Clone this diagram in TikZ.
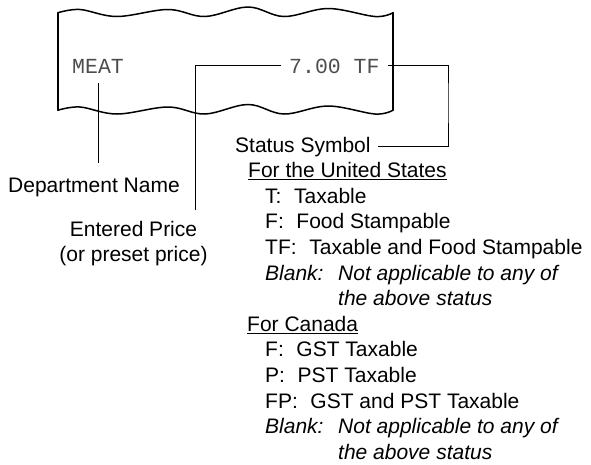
\documentclass[tikz,border=0pt]{standalone}
\usepackage{fontspec}
\setmainfont{Liberation Sans}
\newfontfamily\ticketfont{Liberation Mono}
\usepackage{tikz}
\usepackage{xcolor}
\definecolor{ink}{HTML}{000000}
\definecolor{printed}{HTML}{4D4D4D}
\tikzset{
    paper/.style={
        line width=1.5pt,
        line cap=round,
        line join=round,
        color=ink
    },
    leader/.style={
        line width=0.9pt,
        color=ink
    },
    tickettext/.style={
        font=\ticketfont\fontsize{21.5}{25}\selectfont,
        text=printed,
        inner sep=0pt,
        anchor=base west
    },
    notetext/.style={
        font=\fontsize{21}{25}\selectfont,
        text=ink,
        inner sep=0pt,
        anchor=base west
    },
    blanktext/.style={
        notetext,
        font=\fontsize{21}{25}\selectfont\itshape
    }
}

\begin{document}
\begin{tikzpicture}[x=1pt,y=-1pt]

    \useasboundingbox (0,0) rectangle (591,464);

    % Bords ondulés du ticket
    \foreach \dy in {0,97.5} {
        \draw[paper,shift={(0,\dy)}]
            plot[smooth,tension=0.6] coordinates {
                (58,12.7) (80,9.5) (117,16.5) (168,9.5) (205,16.5)
                (248,7) (284,16.5) (328,8.5) (375,16.5) (393,12.7)};
    }

    % Bords verticaux
    \draw[paper]
        (58,12.7) -- (58,110.2);
    \draw[paper]
        (393,12.7) -- (393,110.2);

    % Ligne imprimée
    \node[tickettext] (meat)
        at (72,73) {MEAT};
    \node[tickettext] (price)
        at (289,73) {7.00 TF};

    % Légendes à gauche
    \node[notetext] (deptname)
        at (8,192) {Department Name};
    \node[
        notetext,
        anchor=base
    ] (entered)
        at (133.5,236) {Entered Price};
    \node[
        notetext,
        anchor=base
    ] (preset)
        at (133.5,261.5) {(or preset price)};

    % Symbole d'état
    \node[notetext] (status)
        at (235,152) {Status Symbol};

    % Etats-Unis
    \node[notetext] (ushead)
        at (248,177.6) {\underline{For the United States}};
    \node[notetext] (ust)
        at (265,203.2) {T:\hspace{0.6em}Taxable};
    \node[notetext] (usf)
        at (265,228.8) {F:\hspace{0.6em}Food Stampable};
    \node[notetext] (ustf)
        at (265,254.4) {TF:\hspace{0.6em}Taxable and Food Stampable};
    \node[blanktext] (usblank)
        at (265,280) {Blank:};
    \node[blanktext] (usnotea)
        at (338,280) {Not applicable to any of};
    \node[blanktext] (usnoteb)
        at (338,305.6) {the above status};

    % Canada
    \node[notetext] (cahead)
        at (247,331.2) {\underline{For Canada}};
    \node[notetext] (caf)
        at (265,356.8) {F:\hspace{0.6em}GST Taxable};
    \node[notetext] (cap)
        at (265,382.4) {P:\hspace{0.6em}PST Taxable};
    \node[notetext] (cafp)
        at (265,408) {FP:\hspace{0.6em}GST and PST Taxable};
    \node[blanktext] (cablank)
        at (265,433.6) {Blank:};
    \node[blanktext] (canotea)
        at (338,433.6) {Not applicable to any of};
    \node[blanktext] (canoteb)
        at (338,459.2) {the above status};

    % Renvois
    \draw[leader,shorten <=10pt,shorten >=14pt]
        (meat.south) -- (meat.south |- deptname.north);

    \draw[leader,shorten <=8pt,shorten >=11pt]
        (price.west) -| ([xshift=-2pt]entered.north east);

    \coordinate (statusbend) at (448,100);
    \draw[leader,shorten <=8pt,shorten >=7pt]
        (price.east) -| (statusbend) |- (status.east);

\end{tikzpicture}
\end{document}
